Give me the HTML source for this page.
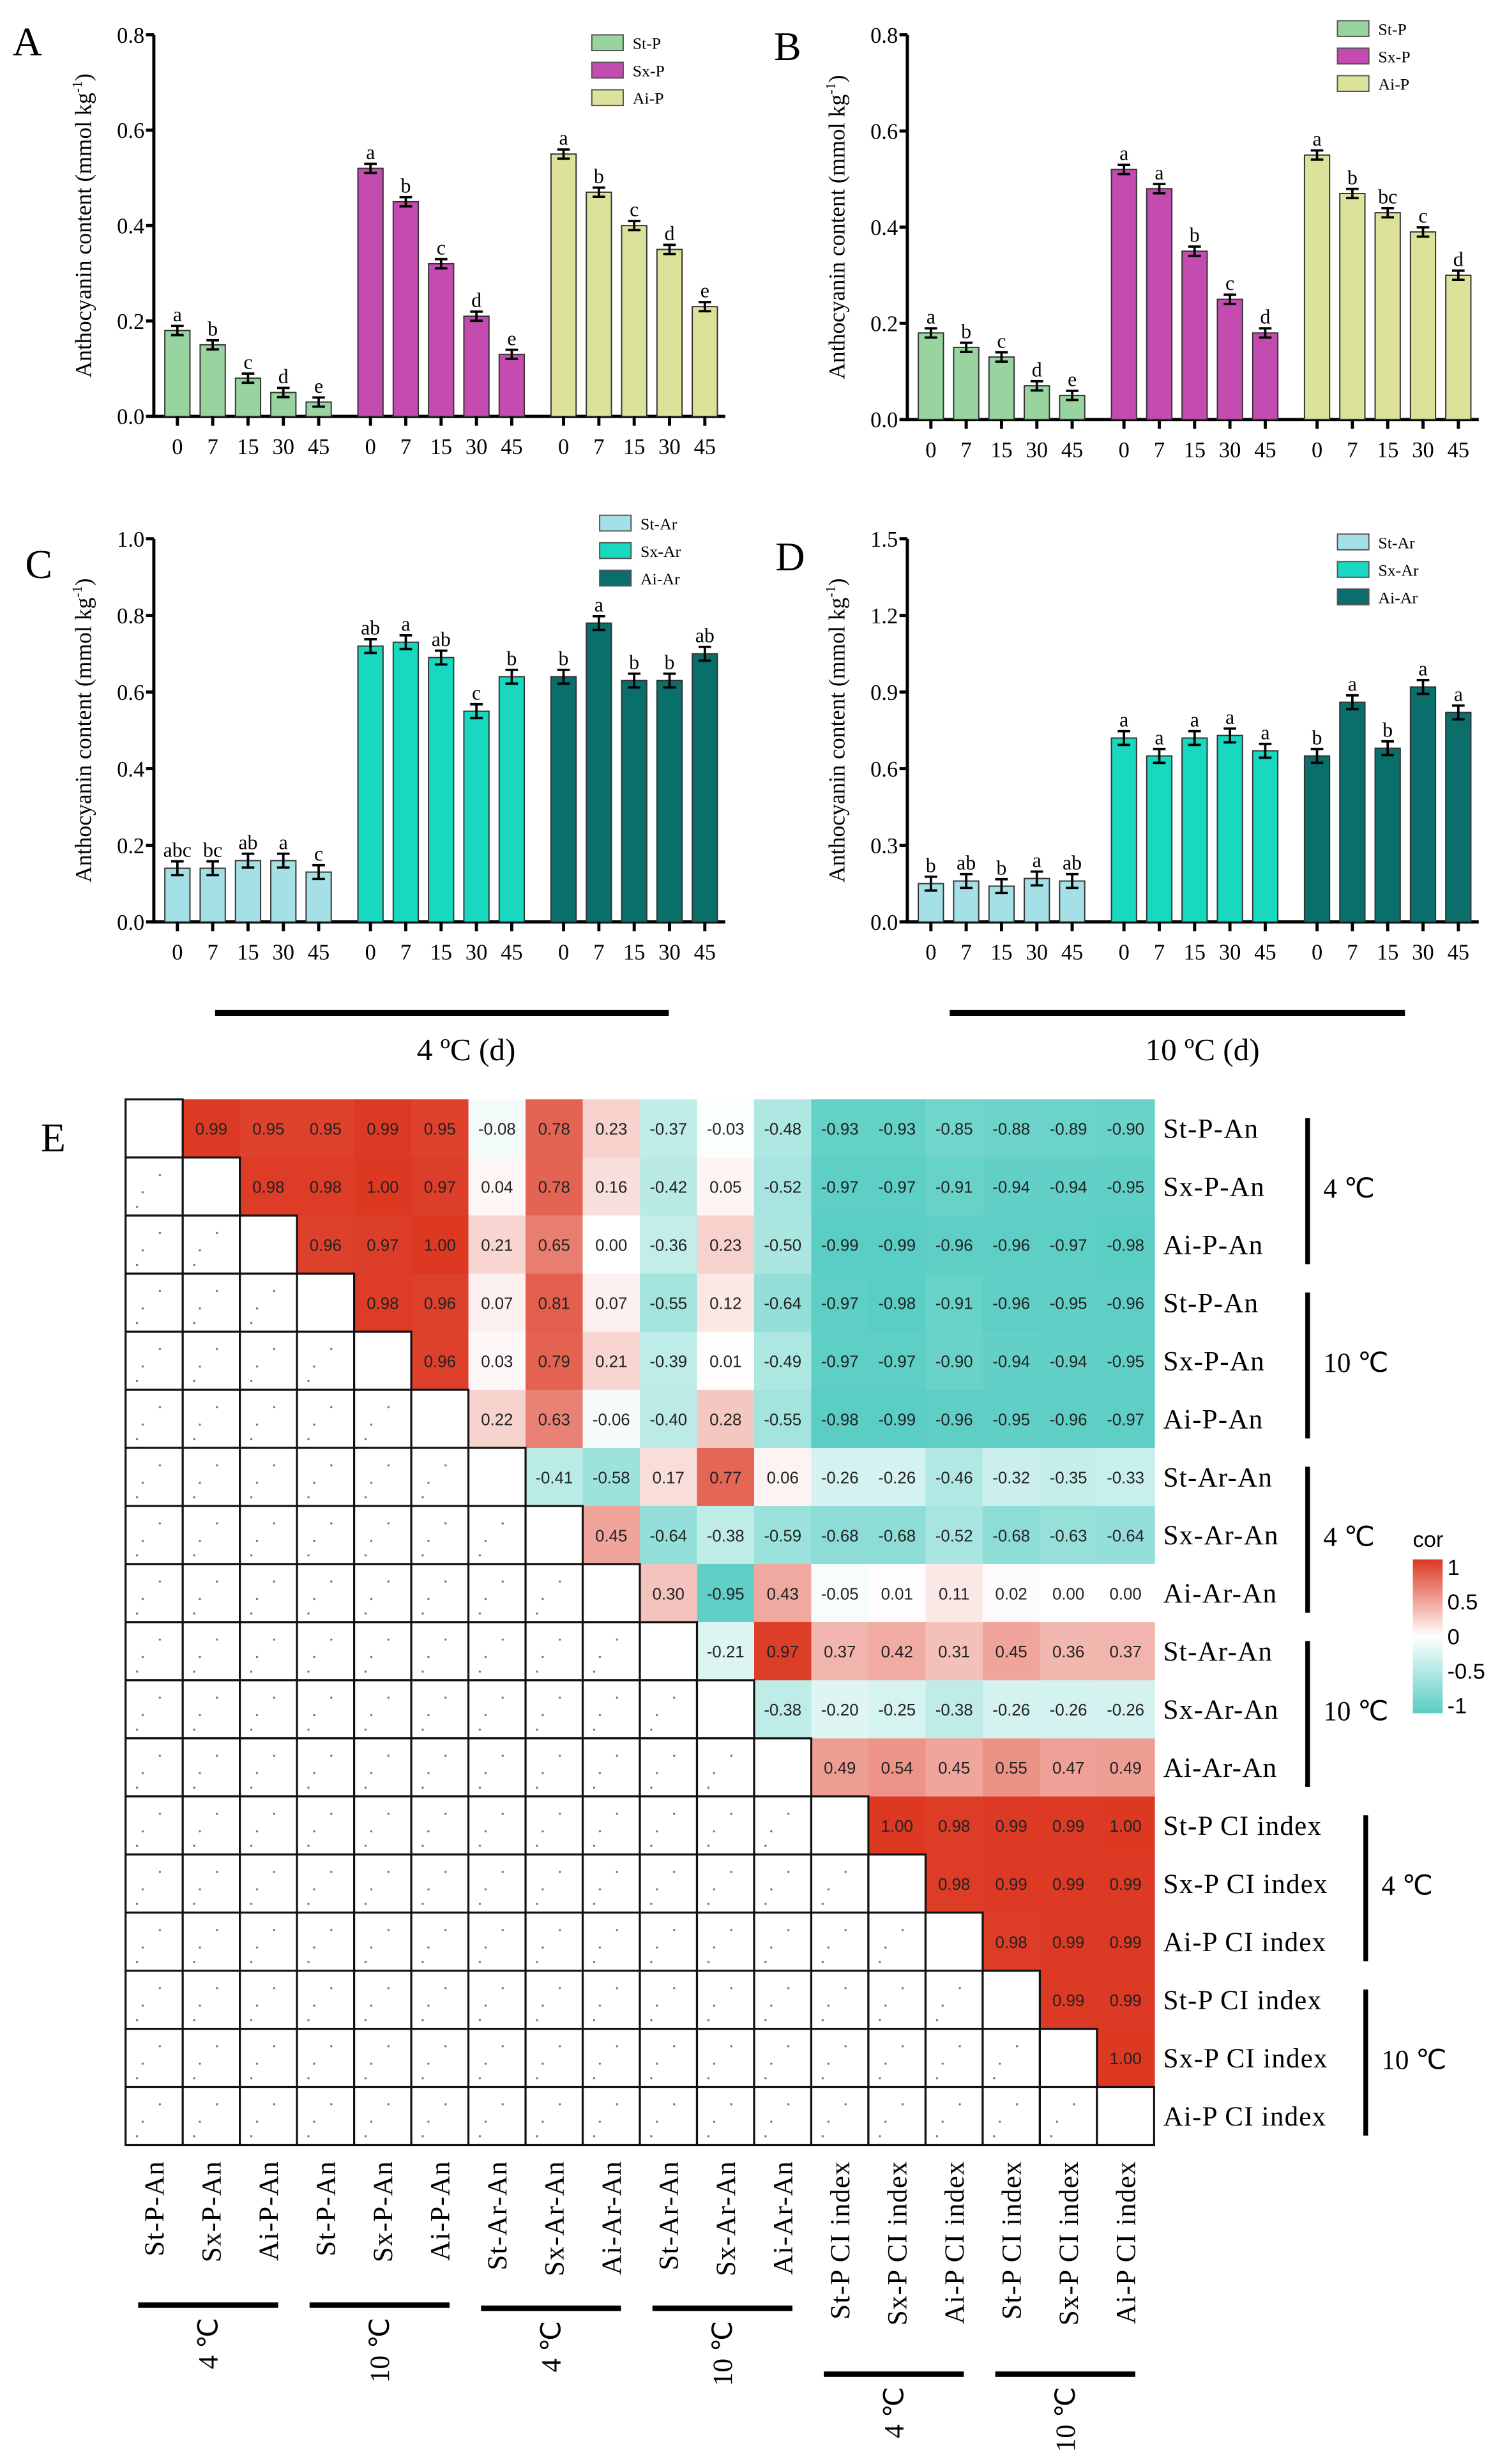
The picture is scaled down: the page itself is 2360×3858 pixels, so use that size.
<!DOCTYPE html>
<html><head><meta charset="utf-8"><style>
html,body{margin:0;padding:0;background:#fff;}
svg{display:block;font-family:"Liberation Serif",serif;}
.hm{font-family:"Liberation Sans",sans-serif;}
</style></head><body>
<svg id="fig" width="2360" height="3858" viewBox="0 0 960 1569" xmlns="http://www.w3.org/2000/svg">
<rect width="960" height="1569" fill="#fff"/>
<g id="root"></g>
</svg>
<script>
const days=["0","7","15","30","45"];
const aSt=[0.18,0.15,0.08,0.05,0.03], aSx=[0.52,0.45,0.32,0.21,0.13], aAi=[0.55,0.47,0.40,0.35,0.23];
const aStL=["a","b","c","d","e"], aSxL=["a","b","c","d","e"], aAiL=["a","b","c","d","e"];
const bSt=[0.18,0.15,0.13,0.07,0.05], bSx=[0.52,0.48,0.35,0.25,0.18], bAi=[0.55,0.47,0.43,0.39,0.30];
const bStL=["a","b","c","d","e"], bSxL=["a","a","b","c","d"], bAiL=["a","b","bc","c","d"];
const cSt=[0.14,0.14,0.16,0.16,0.13], cSx=[0.72,0.73,0.69,0.55,0.64], cAi=[0.64,0.78,0.63,0.63,0.70];
const cStL=["abc","bc","ab","a","c"], cSxL=["ab","a","ab","c","b"], cAiL=["b","a","b","b","ab"];
const dSt=[0.15,0.16,0.14,0.17,0.16], dSx=[0.72,0.65,0.72,0.73,0.67], dAi=[0.65,0.86,0.68,0.92,0.82];
const dStL=["b","ab","b","a","ab"], dSxL=["a","a","a","a","a"], dAiL=["b","a","b","a","a"];
const ticksAB=[0,0.2,0.4,0.6,0.8], ticksC=[0,0.2,0.4,0.6,0.8,1.0], ticksD=[0,0.3,0.6,0.9,1.2,1.5];
const rowLabels=["St-P-An","Sx-P-An","Ai-P-An","St-P-An","Sx-P-An","Ai-P-An","St-Ar-An","Sx-Ar-An","Ai-Ar-An","St-Ar-An","Sx-Ar-An","Ai-Ar-An","St-P CI index","Sx-P CI index","Ai-P CI index","St-P CI index","Sx-P CI index","Ai-P CI index"];
const corRows=[
[0.99,0.95,0.95,0.99,0.95,-0.08,0.78,0.23,-0.37,-0.03,-0.48,-0.93,-0.93,-0.85,-0.88,-0.89,-0.90],
[0.98,0.98,1.00,0.97,0.04,0.78,0.16,-0.42,0.05,-0.52,-0.97,-0.97,-0.91,-0.94,-0.94,-0.95],
[0.96,0.97,1.00,0.21,0.65,0.00,-0.36,0.23,-0.50,-0.99,-0.99,-0.96,-0.96,-0.97,-0.98],
[0.98,0.96,0.07,0.81,0.07,-0.55,0.12,-0.64,-0.97,-0.98,-0.91,-0.96,-0.95,-0.96],
[0.96,0.03,0.79,0.21,-0.39,0.01,-0.49,-0.97,-0.97,-0.90,-0.94,-0.94,-0.95],
[0.22,0.63,-0.06,-0.40,0.28,-0.55,-0.98,-0.99,-0.96,-0.95,-0.96,-0.97],
[-0.41,-0.58,0.17,0.77,0.06,-0.26,-0.26,-0.46,-0.32,-0.35,-0.33],
[0.45,-0.64,-0.38,-0.59,-0.68,-0.68,-0.52,-0.68,-0.63,-0.64],
[0.30,-0.95,0.43,-0.05,0.01,0.11,0.02,0.00,0.00],
[-0.21,0.97,0.37,0.42,0.31,0.45,0.36,0.37],
[-0.38,-0.20,-0.25,-0.38,-0.26,-0.26,-0.26],
[0.49,0.54,0.45,0.55,0.47,0.49],
[1.00,0.98,0.99,0.99,1.00],
[0.98,0.99,0.99,0.99],
[0.98,0.99,0.99],
[0.99,0.99],
[1.00]];
const cbTicks=[1,0.5,0,-0.5,-1];

const NS="http://www.w3.org/2000/svg";
const root=document.getElementById("root");
function el(tag,attrs,parent,txt){const e=document.createElementNS(NS,tag);for(const k in attrs)e.setAttribute(k,attrs[k]);if(txt!==undefined)e.textContent=txt;(parent||root).appendChild(e);return e;}

function panel(o){
  const g=el("g",{});
  
  
  const ymax=o.ticks[o.ticks.length-1];
  const y=v=>o.y0-(v/ymax)*(o.y0-o.y1);
  const xc=i=>o.x0+15+ (Math.floor(i/5))*123 + (i%5)*22.5;
  // axes
  const ya=el("line",{x1:o.x0,y1:o.y1,x2:o.x0,y2:o.y0+1,stroke:"#000","stroke-width":2},g);
  
  
  const xa=el("line",{x1:o.x0-1,y1:o.y0,x2:o.x0+364,y2:o.y0,stroke:"#000","stroke-width":2},g);
  
  
  o.ticks.forEach(t=>{
    el("line",{x1:o.x0-5,y1:y(t),x2:o.x0,y2:y(t),stroke:"#000","stroke-width":2},g);
    const tl=el("text",{x:o.x0-6,y:y(t)+5,"text-anchor":"end","font-size":14},g,t.toFixed(1));
    
    
  });
  const yt=el("text",{transform:`translate(${o.x0-40},${(o.y0+o.y1)/2}) rotate(-90)`,"text-anchor":"middle","font-size":14.5},g);
  
  
  el("tspan",{},yt,"Anthocyanin content  (mmol kg");
  el("tspan",{dy:-6,"font-size":9},yt,"-1");
  el("tspan",{dy:6},yt,")");
  const L=el("text",{x:o.lx,y:o.ly,"font-size":26},g,o.letter);
  
  
  o.series.forEach((s,si)=>{
    s.vals.forEach((v,j)=>{
      const i=si*5+j, cx=xc(i);
      const b=el("rect",{x:cx-8,y:y(v),width:16,height:o.y0-y(v),fill:s.color,stroke:"#333","stroke-width":0.8},g);
      
      
      const e=o.err*ymax;
      el("path",{d:`M${cx},${y(v+e)}V${y(v-e)}M${cx-4},${y(v+e)}H${cx+4}M${cx-4},${y(v-e)}H${cx+4}`,stroke:"#000","stroke-width":1.5,fill:"none"},g);
      const sl=el("text",{x:cx,y:y(v+e)-3,"text-anchor":"middle","font-size":13},g,s.labels[j]);
      
      
      el("line",{x1:cx,y1:o.y0,x2:cx,y2:o.y0+6,stroke:"#000","stroke-width":2},g);
      const xl=el("text",{x:cx,y:o.y0+24,"text-anchor":"middle","font-size":14},g,days[j]);
      
      
    });
    const lg=el("g",{},g);
    
    
    el("rect",{x:o.legx,y:o.legy+si*17.5-5,width:20,height:10,fill:s.color,stroke:"#555","stroke-width":0.8},lg);
    el("text",{x:o.legx+26,y:o.legy+si*17.5+4,"font-size":10.5},lg,s.name);
  });
}
const gP=["#98d4a0","#c44bb0","#dde29a"], gA=["#a5e0e6","#18d8c0","#0a6e6a"];
panel({name:"panel-a",letter:"A",lx:8,ly:35,x0:98,y0:265,y1:22,ticks:ticksAB,err:0.012,legx:377,legy:27,series:[
{key:"st-p",name:"St-P",vals:aSt,labels:aStL,color:gP[0]},{key:"sx-p",name:"Sx-P",vals:aSx,labels:aSxL,color:gP[1]},{key:"ai-p",name:"Ai-P",vals:aAi,labels:aAiL,color:gP[2]}]});
panel({name:"panel-b",letter:"B",lx:493,ly:38,x0:578,y0:267,y1:22,ticks:ticksAB,err:0.012,legx:852,legy:18,series:[
{key:"st-p",name:"St-P",vals:bSt,labels:bStL,color:gP[0]},{key:"sx-p",name:"Sx-P",vals:bSx,labels:bSxL,color:gP[1]},{key:"ai-p",name:"Ai-P",vals:bAi,labels:bAiL,color:gP[2]}]});
panel({name:"panel-c",letter:"C",lx:16,ly:368,x0:98,y0:587,y1:343,ticks:ticksC,err:0.018,legx:382,legy:333,series:[
{key:"st-ar",name:"St-Ar",vals:cSt,labels:cStL,color:gA[0]},{key:"sx-ar",name:"Sx-Ar",vals:cSx,labels:cSxL,color:gA[1]},{key:"ai-ar",name:"Ai-Ar",vals:cAi,labels:cAiL,color:gA[2]}]});
panel({name:"panel-d",letter:"D",lx:494,ly:363,x0:578,y0:587,y1:343,ticks:ticksD,err:0.018,legx:852,legy:345,series:[
{key:"st-ar",name:"St-Ar",vals:dSt,labels:dStL,color:gA[0]},{key:"sx-ar",name:"Sx-Ar",vals:dSx,labels:dSxL,color:gA[1]},{key:"ai-ar",name:"Ai-Ar",vals:dAi,labels:dAiL,color:gA[2]}]});
[[137,426,297,"4 ºC (d)"],[605,895,766,"10 ºC (d)"]].forEach(a=>{
  el("line",{x1:a[0],y1:645,x2:a[1],y2:645,stroke:"#000","stroke-width":4});
  const t=el("text",{x:a[2],y:675,"text-anchor":"middle","font-size":20},root,a[3]);
  
  
});

// heatmap
const HX=80, HY=700, CW=36.4, CH=37.0, N=18;
const E=el("text",{x:26,y:733,"font-size":26},root,"E");


function col(v){
  const w=[255,255,255], r=[220,56,34], t=[88,205,195];
  const c=v>=0?r:t, a=Math.min(1,Math.abs(v));
  return `rgb(${w.map((x,i)=>Math.round(x+(c[i]-x)*a)).join(",")})`;
}
const hg=el("g",{class:"hm"});


corRows.forEach((row,i)=>{
  row.forEach((v,k)=>{
    const j=i+1+k;
    const c=el("rect",{x:HX+j*CW,y:HY+i*CH,width:CW+0.5,height:CH+0.5,fill:col(v)},hg);
    
    
    const t=el("text",{x:HX+j*CW+CW/2,y:HY+i*CH+CH/2+4,"text-anchor":"middle","font-size":10.5,fill:"#222"},hg,v.toFixed(2));
    
    
  });
});
for(let i=0;i<N;i++){for(let j=0;j<=i;j++){
  const c=el("rect",{x:HX+j*CW,y:HY+i*CH,width:CW,height:CH,fill:"#fff",stroke:"#111","stroke-width":1.3},hg);
  
  
  if(j<i){[[0.3,0.6],[0.6,0.3],[0.2,0.85]].forEach(p=>el("circle",{cx:HX+j*CW+p[0]*CW,cy:HY+i*CH+p[1]*CH,r:0.7,fill:"#777"},hg));}
}}
rowLabels.forEach((l,i)=>{
  const t=el("text",{x:741,y:HY+i*CH+CH/2+6,"font-size":17.5,"letter-spacing":"0.5"},root,l);
  
  
  const b=el("text",{transform:`translate(${HX+i*CW+CW/2+6},1376) rotate(-90)`,"text-anchor":"end","font-size":17.5,"letter-spacing":"0.5"},root,l);
  
  
});
// right brackets
[[0,833,"4 ℃"],[3,833,"10 ℃"],[6,833,"4 ℃"],[9,833,"10 ℃"],[12,870,"4 ℃"],[15,870,"10 ℃"]].forEach(a=>{
  el("line",{x1:a[1],y1:HY+a[0]*CH+12,x2:a[1],y2:HY+(a[0]+3)*CH-6,stroke:"#000","stroke-width":3});
  const t=el("text",{x:a[1]+10,y:HY+(a[0]+1.5)*CH+7,"font-size":17.5},root,a[2]);
  
  
});
// bottom brackets
[[0,1468,"4 ℃"],[3,1468,"10 ℃"],[6,1470,"4 ℃"],[9,1470,"10 ℃"],[12,1512,"4 ℃"],[15,1512,"10 ℃"]].forEach(a=>{
  const x1=HX+a[0]*CW+8,x2=HX+(a[0]+3)*CW-12;
  el("line",{x1:x1,y1:a[1],x2:x2,y2:a[1],stroke:"#000","stroke-width":3.5});
  const t=el("text",{transform:`translate(${(x1+x2)/2+6},${a[1]+8}) rotate(-90)`,"text-anchor":"end","font-size":17.5},root,a[2]);
  
  
});
// colorbar
const defs=el("defs",{});
const lgd=el("linearGradient",{id:"cb",x1:0,y1:0,x2:0,y2:1},defs);
[[0,1],[0.25,0.5],[0.5,0],[0.75,-0.5],[1,-1]].forEach(s=>el("stop",{offset:s[0],"stop-color":col(s[1])},lgd));
const cb=el("rect",{x:900,y:993,width:19,height:98,fill:"url(#cb)"});


const ct=el("text",{x:900,y:985,"font-size":14,class:"hm"},root,"cor");


cbTicks.forEach((t,i)=>{
  const tx=el("text",{x:922,y:1003+i*22,"font-size":14,class:"hm"},root,String(t));
  
  
});
</script>
</body></html>
